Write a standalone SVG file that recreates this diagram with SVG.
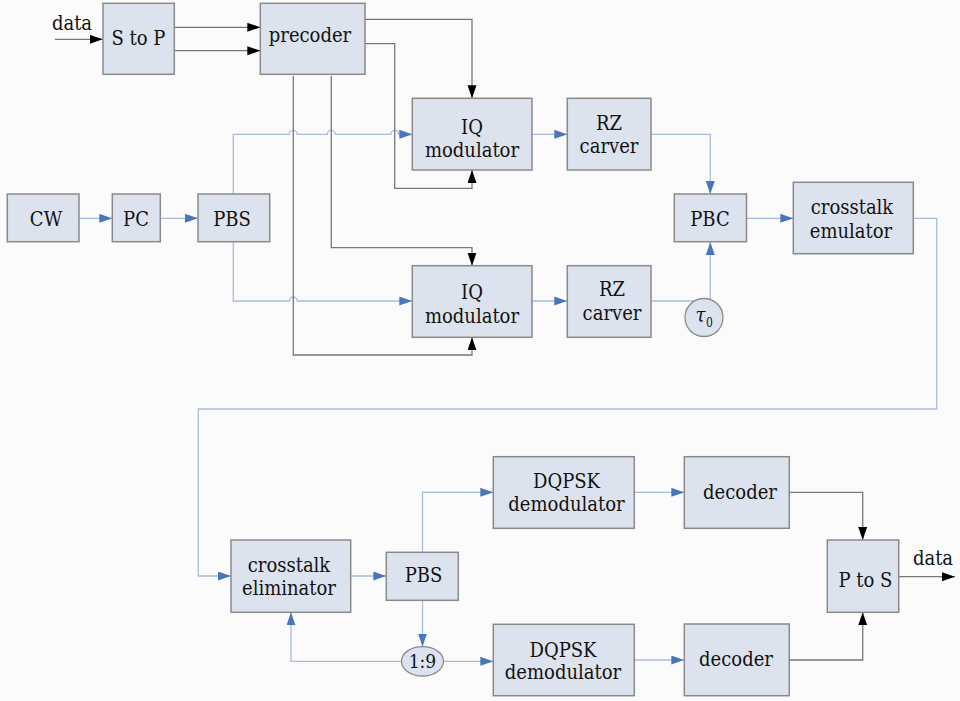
<svg xmlns="http://www.w3.org/2000/svg" width="960" height="701" viewBox="0 0 960 701">
<style>
.box{fill:#dde3ee;stroke:#8a8a8a;stroke-width:1.5}
.t{font-family:"DejaVu Serif Condensed","DejaVu Serif","Liberation Serif",serif;font-stretch:condensed;font-size:20px;fill:#111;text-anchor:middle}
.b{fill:none;stroke:#a9bcdc;stroke-width:1.3;marker-end:url(#ab)}
.k{fill:none;stroke:#777;stroke-width:1.3;marker-end:url(#ak)}
</style>
<defs>
<marker id="ab" markerUnits="userSpaceOnUse" markerWidth="13" markerHeight="10" refX="13" refY="4.5" orient="auto"><path d="M0,0 L13,4.5 L0,9 z" fill="#4a76b9"/></marker>
<marker id="ak" markerUnits="userSpaceOnUse" markerWidth="13" markerHeight="10" refX="13" refY="4.5" orient="auto"><path d="M0,0 L13,4.5 L0,9 z" fill="#000"/></marker>
</defs>
<rect width="960" height="701" fill="#fbfbfb"/>
<g id="connectors">
<path class="b" d="M79,218.3 H112.3"/>
<path class="b" d="M160.3,218.3 H198"/>
<path class="b" d="M233.3,194 V134.3 H289.3 a4,4 0 0 1 8,0 H327.3 a4,4 0 0 1 8,0 H390.7 a4,4 0 0 1 8,0 H412.3"/>
<path class="b" d="M233.3,241.7 V301 H289.3 a4,4 0 0 1 8,0 H412.3"/>
<path class="b" d="M532,134.3 H567.3"/>
<path class="b" d="M532,301 H567.3"/>
<path class="b" d="M651,134.3 H710.3 V194"/>
<path class="b" d="M651,301 H710.3 V242"/>
<path class="b" d="M746.5,218.3 H793.3"/>
<path class="b" d="M913.3,218.3 H936.7 V409 H198.3 V576 H231"/>
<path class="b" d="M350.7,576 H386.3"/>
<path class="b" d="M422.5,552.3 V492.3 H493.3"/>
<path class="b" d="M422.5,600.3 V646.6"/>
<path class="b" d="M443.5,661.3 H493.3"/>
<path class="b" d="M401.5,661.3 H291 V612.3"/>
<path class="b" d="M634.3,492.3 H684.3"/>
<path class="b" d="M634.3,660 H684.3"/>
<path class="k" d="M55,39.3 H102.7"/>
<path class="k" d="M174.3,27.3 H260.3"/>
<path class="k" d="M174.3,50.7 H260.3"/>
<path class="k" d="M365,19.3 H472 V98.3"/>
<path class="k" d="M365,43.7 H394.7 V188.3 H472 V170"/>
<path class="k" d="M331.3,76 V247.7 H472 V265.7"/>
<path class="k" d="M293.3,76 V355 H472 V337.3"/>
<path class="k" d="M789.3,492.3 H862.7 V540"/>
<path class="k" d="M789.3,660 H862.7 V612.3"/>
<path class="k" d="M898.7,576.7 H955"/>
</g>
<g id="data-in"><text class="t" x="72" y="30">data</text></g>
<g id="stop"><rect class="box" x="103" y="3.3" width="71.3" height="71"/><text class="t" x="138.5" y="44.5">S to P</text></g>
<g id="precoder"><rect class="box" x="260.3" y="3.3" width="104.7" height="71"/><text class="t" x="310" y="41.7">precoder</text></g>
<g id="iq1"><rect class="box" x="412.3" y="98.3" width="119.7" height="71.7"/><text class="t" x="472" y="133.5">IQ</text><text class="t" x="472" y="156.5">modulator</text></g>
<g id="rz1"><rect class="box" x="567.3" y="98.3" width="83.7" height="71.7"/><text class="t" x="609" y="130">RZ</text><text class="t" x="609" y="153">carver</text></g>
<g id="cw"><rect class="box" x="7.3" y="194" width="71.7" height="47.7"/><text class="t" x="46" y="225.5">CW</text></g>
<g id="pc"><rect class="box" x="112.3" y="194" width="48" height="47.7"/><text class="t" x="136" y="225.5">PC</text></g>
<g id="pbs1"><rect class="box" x="198" y="194" width="71.7" height="47.7"/><text class="t" x="232" y="225.5">PBS</text></g>
<g id="pbc"><rect class="box" x="674.3" y="194" width="72.2" height="47.7"/><text class="t" x="710" y="225.5">PBC</text></g>
<g id="emulator"><rect class="box" x="793.3" y="182.3" width="120" height="71.4"/><text class="t" x="852" y="214.3">crosstalk</text><text class="t" x="851" y="238.3">emulator</text></g>
<g id="iq2"><rect class="box" x="412.3" y="265.7" width="119.7" height="71.6"/><text class="t" x="472" y="298.5">IQ</text><text class="t" x="472" y="322.5">modulator</text></g>
<g id="rz2"><rect class="box" x="567.3" y="265.7" width="83.7" height="71.6"/><text class="t" x="612" y="296">RZ</text><text class="t" x="612" y="319.5">carver</text></g>
<g id="tau"><circle cx="704" cy="317.5" r="19" fill="#dde3ee" stroke="#8a8a8a" stroke-width="1.3"/><text class="t" x="700.5" y="321.7" font-style="italic">τ</text><text class="t" x="709.5" y="327" style="font-size:12px">0</text></g>
<g id="eliminator"><rect class="box" x="231" y="540" width="119.7" height="72.3"/><text class="t" x="289" y="571.7">crosstalk</text><text class="t" x="289" y="595">eliminator</text></g>
<g id="pbs2"><rect class="box" x="386.3" y="552.3" width="72" height="48"/><text class="t" x="423.5" y="582">PBS</text></g>
<g id="dq1"><rect class="box" x="493.3" y="456.7" width="141" height="71.6"/><text class="t" x="566.5" y="487.7">DQPSK</text><text class="t" x="566.5" y="511">demodulator</text></g>
<g id="dq2"><rect class="box" x="493.3" y="624.3" width="141" height="71.4"/><text class="t" x="563" y="656.7">DQPSK</text><text class="t" x="563" y="679.3">demodulator</text></g>
<g id="split"><ellipse cx="422.5" cy="661.3" rx="21" ry="14.7" fill="#dde3ee" stroke="#8a8a8a" stroke-width="1.3"/><text class="t" x="422.5" y="668.3" style="font-size:19px">1:9</text></g>
<g id="dec1"><rect class="box" x="684.3" y="456.7" width="105" height="71.6"/><text class="t" x="740" y="499">decoder</text></g>
<g id="dec2"><rect class="box" x="684.3" y="624" width="105" height="71.7"/><text class="t" x="736" y="665.7">decoder</text></g>
<g id="ptos"><rect class="box" x="827.3" y="540" width="71.4" height="72.3"/><text class="t" x="865.5" y="586.7">P to S</text></g>
<g id="data-out"><text class="t" x="933" y="565">data</text></g>
</svg>
